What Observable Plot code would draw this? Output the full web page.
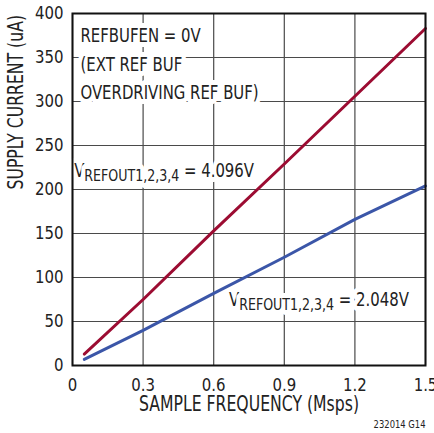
<!DOCTYPE html>
<html>
<head>
<meta charset="utf-8">
<script src="https://cdn.jsdelivr.net/npm/d3@7"></script>
<script src="https://cdn.jsdelivr.net/npm/@observablehq/plot@0.6"></script>
<style>
  html, body { margin: 0; padding: 0; background: #fff; }
</style>
</head>
<body>
<div id="chart"></div>
<script>
// ---- data ----
const freq = [0.05, 0.3, 0.6, 0.9, 1.2, 1.5];           // Msps
const current4096 = [13, 75, 153, 229, 306, 383];        // uA, VREFOUT = 4.096V
const current2048 = [7, 40, 82, 123, 166, 204];          // uA, VREFOUT = 2.048V
const seriesNames = ["4.096V", "2.048V"];
const seriesColors = ["#9c0c32", "#3b56a8"];
const xTicks = [0, 0.3, 0.6, 0.9, 1.2, 1.5];
const xTickLabels = ["0", "0.3", "0.6", "0.9", "1.2", "1.5"];
const yTicks = [0, 50, 100, 150, 200, 250, 300, 350, 400];
const xLabel = "SAMPLE FREQUENCY (Msps)";
const yLabel = "SUPPLY CURRENT (uA)";
const caption = "232014 G14";
const noteText = ["REFBUFEN = 0V\n(EXT REF BUF\nOVERDRIVING REF BUF)", "VREFOUT1,2,3,4 = 4.096V", "VREFOUT1,2,3,4 = 2.048V"];
const noteX = [0.034, 0.007, 0.665];
const noteY = [345.5, 225, 77.5];

const font = "'Liberation Sans Narrow', 'DejaVu Sans Condensed', 'DejaVu Sans', sans-serif";

const rows = [];
freq.forEach((f, i) => rows.push({f, c: current4096[i], s: seriesNames[0]}));
freq.forEach((f, i) => rows.push({f, c: current2048[i], s: seriesNames[1]}));
const notes = noteText.map((t, i) => ({t, x: noteX[i], y: noteY[i]}));

const chart = Plot.plot({
  width: 434,
  height: 433,
  marginLeft: 72,
  marginRight: 9,
  marginTop: 13,
  marginBottom: 68,
  style: {fontFamily: font, fontSize: "17px", background: "white", color: "#222", overflow: "visible"},
  x: {domain: [0, 1.5], label: null},
  y: {domain: [0, 400], label: null},
  color: {domain: seriesNames, range: seriesColors},
  marks: [
    Plot.gridX(xTicks, {stroke: "#4a4a4a", strokeOpacity: 1, strokeWidth: 1.2}),
    Plot.gridY(yTicks, {stroke: "#4a4a4a", strokeOpacity: 1, strokeWidth: 1.2}),
    Plot.text(notes, {x: "x", y: "y", text: "t", textAnchor: "start", lineAnchor: "middle",
      lineHeight: 1.45, fontSize: 19.5, fill: "#222", stroke: "white", strokeWidth: 10}),
    Plot.line(rows, {x: "f", y: "c", z: "s", stroke: "s", strokeWidth: 3}),
    Plot.frame({stroke: "#111", strokeWidth: 2}),
    Plot.axisX({ticks: xTicks, tickFormat: (d, i) => xTickLabels[i], tickSize: 0, tickPadding: 13, label: null, fontSize: 17.5}),
    Plot.axisY({ticks: yTicks, tickSize: 0, tickPadding: 9, label: null, fontSize: 17.5}),
    Plot.text([xLabel], {frameAnchor: "bottom", dy: 45, fontSize: 20.5, fill: "#222"}),
    Plot.text([yLabel], {frameAnchor: "left", rotate: -90, dx: -56.5, fontSize: 20.5, fill: "#222"}),
    Plot.text([caption], {frameAnchor: "bottom-right", textAnchor: "end", dy: 62, fontSize: 11, fill: "#222"})
  ]
});

// subscript for VREFOUT labels
d3.select(chart).selectAll("text").each(function() {
  const t = this.textContent;
  if (t.startsWith("VREFOUT")) {
    const rest = t.slice("VREFOUT1,2,3,4".length);
    const sel = d3.select(this);
    sel.text(null);
    sel.append("tspan").text("V");
    sel.append("tspan").attr("font-size", 16.5).attr("dy", 4).text("REFOUT1,2,3,4");
    sel.append("tspan").attr("dy", -4).text(rest);
  }
});

// condense glyphs horizontally (reference uses a narrow typeface)
d3.select(chart).selectAll("text").each(function() {
  const g = this.closest("g[aria-label]");
  const lab = g ? g.getAttribute("aria-label") : "";
  const k = /tick label/.test(lab) ? 0.95 : 0.85;
  const tr = this.getAttribute("transform");
  if (tr) {
    this.setAttribute("transform", tr + ` scale(${k},1)`);
  } else {
    const x = +(this.getAttribute("x") || 0), y = +(this.getAttribute("y") || 0);
    this.removeAttribute("x"); this.removeAttribute("y");
    this.setAttribute("transform", `translate(${x},${y}) scale(${k},1)`);
  }
});

document.getElementById("chart").appendChild(chart);
</script>
</body>
</html>
